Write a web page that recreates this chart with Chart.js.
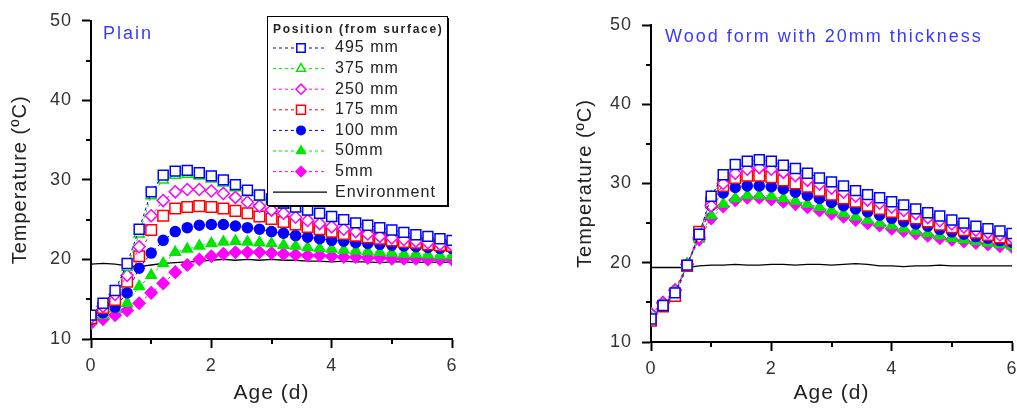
<!DOCTYPE html>
<html>
<head>
<meta charset="utf-8">
<script src="https://cdn.jsdelivr.net/npm/chart.js@4/dist/chart.umd.min.js"></script>
<style>
    html, body { margin: 0; padding: 0; background: #fff; }
    #wrap { position: relative; width: 1017px; height: 412px; overflow: hidden; }
    .panel { position: absolute; top: 0; height: 412px; }
    #plainBox { left: 0; width: 508px; }
    #woodBox { left: 508px; width: 524px; }
</style>
</head>
<body>
<div id="wrap">
    <div class="panel" id="plainBox"><canvas id="plainChart" width="508" height="412"></canvas></div>
    <div class="panel" id="woodBox"><canvas id="woodChart" width="524" height="412"></canvas></div>
</div>
<script>
// Age (days), one reading every 0.2 d
const ages = [0, 0.2, 0.4, 0.6, 0.8, 1.0, 1.2, 1.4, 1.6, 1.8, 2.0, 2.2, 2.4, 2.6, 2.8, 3.0,
    3.2, 3.4, 3.6, 3.8, 4.0, 4.2, 4.4, 4.6, 4.8, 5.0, 5.2, 5.4, 5.6, 5.8, 6.0];

const positionLabels = ['495 mm', '375 mm', '250 mm', '175 mm', '100 mm', '50mm', '5mm'];
const envLabel = 'Environment';

// Plain
const plain495 = [13.0, 14.5, 16.1, 19.5, 23.8, 28.5, 30.6, 31.1, 31.2, 30.9, 30.5, 30.0, 29.4, 28.7, 28.1, 27.6,
    27.1, 26.6, 26.2, 25.8, 25.4, 25.0, 24.6, 24.3, 24.0, 23.7, 23.4, 23.1, 22.9, 22.6, 22.4];
const plain375 = [12.8, 14.3, 15.9, 19.0, 23.2, 28.0, 30.0, 30.6, 30.7, 30.5, 30.1, 29.6, 29.0, 28.4, 27.8, 27.3,
    26.8, 26.4, 26.0, 25.6, 25.2, 24.8, 24.4, 24.1, 23.8, 23.5, 23.2, 22.9, 22.7, 22.4, 22.2];
const plain250 = [12.7, 14.1, 15.6, 18.0, 21.6, 25.5, 27.4, 28.5, 28.8, 28.8, 28.6, 28.3, 27.8, 27.2, 26.7, 26.2,
    25.8, 25.3, 24.9, 24.5, 24.1, 23.8, 23.5, 23.2, 22.9, 22.7, 22.5, 22.3, 22.1, 21.9, 21.8];
const plain175 = [12.6, 13.9, 14.9, 17.2, 20.4, 23.7, 25.5, 26.4, 26.6, 26.7, 26.6, 26.4, 26.1, 25.8, 25.4, 25.1,
    24.7, 24.4, 24.1, 23.8, 23.5, 23.2, 23.0, 22.8, 22.6, 22.4, 22.2, 22.1, 21.9, 21.8, 21.7];
const plain100 = [12.5, 13.3, 14.0, 15.8, 18.9, 20.8, 22.4, 23.5, 24.0, 24.3, 24.4, 24.4, 24.2, 24.0, 23.8, 23.5,
    23.3, 23.0, 22.8, 22.6, 22.4, 22.3, 22.1, 22.0, 21.9, 21.8, 21.7, 21.6, 21.5, 21.4, 21.4];
const plain50 = [12.3, 13.0, 13.8, 14.5, 16.6, 18.0, 19.5, 20.9, 21.3, 21.7, 22.0, 22.2, 22.3, 22.2, 22.1, 22.0,
    21.8, 21.7, 21.5, 21.4, 21.3, 21.2, 21.1, 21.0, 20.9, 20.8, 20.7, 20.7, 20.6, 20.5, 20.5];
const plain5 = [12.0, 12.5, 13.0, 13.6, 14.5, 15.8, 17.0, 18.4, 19.3, 20.0, 20.4, 20.7, 20.9, 20.9, 20.9, 20.8,
    20.7, 20.6, 20.5, 20.5, 20.4, 20.3, 20.3, 20.2, 20.2, 20.1, 20.1, 20.1, 20.0, 20.0, 20.0];
const plainEnv = [19.4, 19.5, 19.4, 19.2, 19.1, 19.3, 19.5, 19.6, 19.7, 19.8, 19.9, 20.0, 19.9, 20.0, 19.9, 20.0,
    19.9, 19.9, 19.8, 19.8, 19.7, 19.8, 19.7, 19.7, 19.6, 19.7, 19.7, 19.6, 19.7, 19.6, 19.7];

// Wood form with 20mm thickness
const wood495 = [12.9, 14.6, 16.2, 19.7, 23.6, 28.4, 31.1, 32.4, 32.8, 33.0, 32.8, 32.3, 31.9, 31.3, 30.7, 30.2,
    29.7, 29.1, 28.6, 28.2, 27.7, 27.3, 26.8, 26.3, 25.9, 25.4, 25.0, 24.6, 24.3, 24.0, 23.7];
const wood375 = [13.1, 14.7, 16.3, 19.8, 23.5, 28.3, 30.9, 32.2, 32.6, 32.8, 32.6, 32.1, 31.7, 31.1, 30.5, 30.0,
    29.5, 28.9, 28.4, 28.0, 27.5, 27.1, 26.6, 26.1, 25.7, 25.2, 24.8, 24.4, 24.1, 23.8, 23.5];
const wood250 = [13.5, 14.9, 16.5, 19.8, 23.2, 27.2, 30.0, 31.3, 31.8, 32.0, 31.8, 31.4, 31.0, 30.4, 29.9, 29.4,
    28.9, 28.4, 27.9, 27.5, 27.0, 26.6, 26.2, 25.7, 25.3, 24.9, 24.5, 24.1, 23.8, 23.5, 23.2];
const wood175 = [12.7, 14.5, 15.8, 19.6, 23.9, 27.6, 29.7, 30.7, 31.0, 31.0, 30.8, 30.4, 30.0, 29.6, 29.1, 28.6,
    28.1, 27.7, 27.2, 26.8, 26.4, 26.0, 25.6, 25.2, 24.8, 24.5, 24.1, 23.8, 23.5, 23.2, 23.0];
const wood100 = [12.8, 14.6, 15.9, 19.6, 23.4, 27.2, 28.8, 29.5, 29.7, 29.7, 29.6, 29.3, 28.9, 28.5, 28.1, 27.6,
    27.2, 26.8, 26.4, 26.0, 25.6, 25.2, 24.9, 24.6, 24.2, 23.9, 23.6, 23.3, 23.1, 22.8, 22.6];
const wood50 = [13.2, 14.8, 16.3, 19.7, 23.0, 26.0, 27.4, 28.1, 28.5, 28.5, 28.4, 28.1, 27.8, 27.4, 27.0, 26.6,
    26.2, 25.8, 25.4, 25.0, 24.7, 24.3, 24.0, 23.7, 23.4, 23.1, 22.9, 22.7, 22.5, 22.3, 22.1];
const wood5 = [13.6, 15.0, 16.6, 19.8, 22.9, 25.6, 27.1, 27.9, 28.2, 28.2, 28.0, 27.7, 27.4, 27.0, 26.6, 26.2,
    25.8, 25.4, 25.0, 24.7, 24.3, 24.0, 23.7, 23.4, 23.1, 22.9, 22.7, 22.5, 22.3, 22.1, 22.0];
const woodEnv = [19.4, 19.4, 19.4, 19.4, 19.6, 19.7, 19.7, 19.8, 19.7, 19.7, 19.8, 19.8, 19.7, 19.8, 19.8, 19.7,
    19.8, 19.9, 19.8, 19.6, 19.6, 19.5, 19.6, 19.6, 19.7, 19.6, 19.6, 19.6, 19.6, 19.6, 19.6];

const xMinorTicks = [1, 3, 5];
const yMinorTicks = [15, 25, 35, 45];

const BLUE = '#0000ff', GREEN = '#00e600', MAGENTA = '#ff00ff', RED = '#ff0000';
const FONT = "'Liberation Sans', Arial, sans-serif";

const markers = [
    { color: BLUE, style: 'rect', filled: false, radius: 7 },
    { color: GREEN, style: 'triangle', filled: false, radius: 6 },
    { color: MAGENTA, style: 'rectRot', filled: false, radius: 6 },
    { color: RED, style: 'rect', filled: false, radius: 7.5 },
    { color: BLUE, style: 'circle', filled: true, radius: 5 },
    { color: GREEN, style: 'triangle', filled: true, radius: 6 },
    { color: MAGENTA, style: 'rectRot', filled: true, radius: 6 }
];

const toPoints = values => values.map((v, i) => ({ x: ages[i], y: v }));

const buildDatasets = (seriesList, env) => {
    const sets = seriesList.map((values, i) => {
        const m = markers[i];
        return {
            label: positionLabels[i],
            data: toPoints(values),
            borderColor: m.color,
            borderWidth: 1,
            borderDash: [3, 3],
            pointStyle: m.style,
            pointRadius: m.radius,
            pointBorderWidth: 1.5,
            pointBorderColor: m.color,
            pointBackgroundColor: m.filled ? m.color : '#fff',
            backgroundColor: m.filled ? m.color : '#fff'
        };
    });
    sets.push({
        label: envLabel,
        data: toPoints(env),
        borderColor: '#000',
        borderWidth: 1.3,
        pointRadius: 0
    });
    return sets;
};

// letter spacing for every label drawn by the library
const spacing = {
    id: 'spacing',
    beforeDraw(chart) {
        chart.ctx.letterSpacing = '1px';
    }
};

const minorTicks = {
    id: 'minorTicks',
    afterDraw(chart) {
        const { ctx, scales: { x, y } } = chart;
        ctx.save();
        ctx.strokeStyle = '#000';
        ctx.lineWidth = 2;
        ctx.beginPath();
        xMinorTicks.forEach(v => {
            const px = Math.round(x.getPixelForValue(v));
            ctx.moveTo(px, y.bottom);
            ctx.lineTo(px, y.bottom + 5);
        });
        yMinorTicks.forEach(v => {
            const py = Math.round(y.getPixelForValue(v));
            ctx.moveTo(x.left, py);
            ctx.lineTo(x.left - 5, py);
        });
        ctx.stroke();
        ctx.restore();
    }
};

const panelTitle = {
    id: 'panelTitle',
    afterDraw(chart, args, opts) {
        const { ctx, chartArea } = chart;
        ctx.save();
        ctx.letterSpacing = opts.spacing;
        ctx.font = `${opts.size}px ${FONT}`;
        ctx.fillStyle = '#3a3aff';
        ctx.textBaseline = 'middle';
        ctx.fillText(opts.text, chartArea.left + opts.dx, chartArea.top + opts.dy);
        ctx.restore();
    }
};

const boxLegend = {
    id: 'boxLegend',
    afterDraw(chart, args, opts) {
        if (!opts.show) return;
        const { ctx } = chart;
        const { x, y, w, h } = opts;
        ctx.save();
        ctx.fillStyle = '#fff';
        ctx.fillRect(x, y, w, h);
        ctx.fillStyle = '#000';
        ctx.fillRect(x + w, y + 2, 2, h);
        ctx.fillRect(x + 2, y + h, w, 2);
        ctx.strokeStyle = '#000';
        ctx.lineWidth = 1;
        ctx.strokeRect(x + 0.5, y + 0.5, w, h);

        ctx.letterSpacing = '1.7px';
        ctx.font = `bold 12px ${FONT}`;
        ctx.fillStyle = '#222';
        ctx.textBaseline = 'middle';
        ctx.fillText('Position (from surface)', x + 6, y + 14);

        ctx.letterSpacing = '1px';
        ctx.font = `16px ${FONT}`;
        const lineX0 = x + 6, lineX1 = x + 60, markX = x + 34, textX = x + 68;
        chart.data.datasets.forEach((ds, i) => {
            const cy = y + 32 + i * 20.6;
            ctx.strokeStyle = ds.borderColor;
            ctx.lineWidth = ds.borderWidth;
            ctx.setLineDash(ds.borderDash || []);
            ctx.beginPath();
            ctx.moveTo(lineX0, cy);
            ctx.lineTo(lineX1, cy);
            ctx.stroke();
            ctx.setLineDash([]);
            if (ds.pointRadius > 0) {
                ctx.fillStyle = ds.pointBackgroundColor;
                ctx.strokeStyle = ds.pointBorderColor;
                ctx.lineWidth = ds.pointBorderWidth;
                Chart.helpers.drawPoint(ctx, {
                    pointStyle: ds.pointStyle,
                    radius: ds.pointRadius * 0.85,
                    rotation: 0,
                    borderWidth: ds.pointBorderWidth
                }, markX, cy);
            }
            ctx.fillStyle = '#222';
            ctx.fillText(ds.label, textX, cy);
        });
        ctx.restore();
    }
};

const makeChart = (canvasId, datasets, layout, title, legend) => {
    const axisGrid = { drawOnChartArea: false, tickLength: 9, tickColor: '#000', tickWidth: 2 };
    const axisBorder = { color: '#000', width: 2 };
    return new Chart(document.getElementById(canvasId), {
        type: 'line',
        data: { datasets },
        options: {
            responsive: false,
            animation: false,
            layout: { padding: { left: layout.padLeft, right: layout.padRight, top: layout.padTop, bottom: 0 } },
            plugins: {
                legend: { display: false },
                tooltip: { enabled: false },
                panelTitle: title,
                boxLegend: legend
            },
            scales: {
                x: {
                    type: 'linear',
                    min: 0,
                    max: 6,
                    afterFit: s => { s.height = layout.xHeight; },
                    border: axisBorder,
                    grid: axisGrid,
                    ticks: { stepSize: 2, color: '#333', padding: 7, font: { family: FONT, size: 18 } },
                    title: {
                        display: true,
                        text: 'Age (d)',
                        color: '#222',
                        padding: { top: 0, bottom: 6 },
                        font: { family: FONT, size: 21 }
                    }
                },
                y: {
                    min: 10,
                    max: 50,
                    afterFit: s => { s.width = layout.yWidth; },
                    border: axisBorder,
                    grid: axisGrid,
                    ticks: { stepSize: 10, color: '#333', padding: 10, font: { family: FONT, size: 18 } },
                    title: {
                        display: true,
                        text: 'Temperature (ºC)',
                        color: '#222',
                        padding: { top: 8, bottom: 0 },
                        font: { family: FONT, size: 20 }
                    }
                }
            }
        },
        plugins: [spacing, minorTicks, panelTitle, boxLegend]
    });
};

makeChart('plainChart',
    buildDatasets([plain495, plain375, plain250, plain175, plain100, plain50, plain5], plainEnv),
    { padLeft: 0, yWidth: 91, padRight: 56, padTop: 20, xHeight: 73 },
    { text: 'Plain', size: 18, spacing: '2px', dx: 12, dy: 13 },
    { show: true, x: 267, y: 16, w: 180, h: 189 });

makeChart('woodChart',
    buildDatasets([wood495, wood375, wood250, wood175, wood100, wood50, wood5], woodEnv),
    { padLeft: 57, yWidth: 86, padRight: 20, padTop: 25, xHeight: 70 },
    { text: 'Wood form with 20mm thickness', size: 18, spacing: '2px', dx: 14, dy: 12 },
    { show: false });
</script>
</body>
</html>
